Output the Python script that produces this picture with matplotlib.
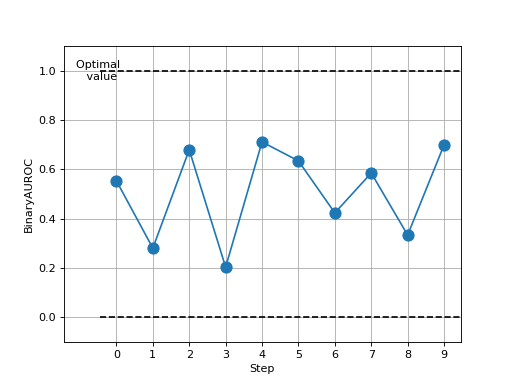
import numpy as np
import matplotlib
matplotlib.use('Agg')
import matplotlib.pyplot as plt

steps = [0, 1, 2, 3, 4, 5, 6, 7, 8, 9]
auroc = [0.553, 0.280, 0.679, 0.203, 0.711, 0.634, 0.423, 0.585, 0.333, 0.699]
optimal = 1.0
lower = 0.0

fig, ax = plt.subplots(figsize=(6.4, 4.8), dpi=80)
ax.plot(steps, auroc, marker='o', markersize=10, linestyle='-')
ax.hlines([lower, optimal], -0.45, 9.5, linestyles='dashed', colors='k')
ax.text(-0.45, optimal, 'Optimal \n value', ha='center', va='center')
ax.set_xlim(-1.44, 9.46)
ax.set_ylim(-0.1, 1.1)
ax.set_xticks(steps)
ax.set_xlabel('Step')
ax.set_ylabel('BinaryAUROC')
ax.grid(True)
fig.savefig('out.png')
